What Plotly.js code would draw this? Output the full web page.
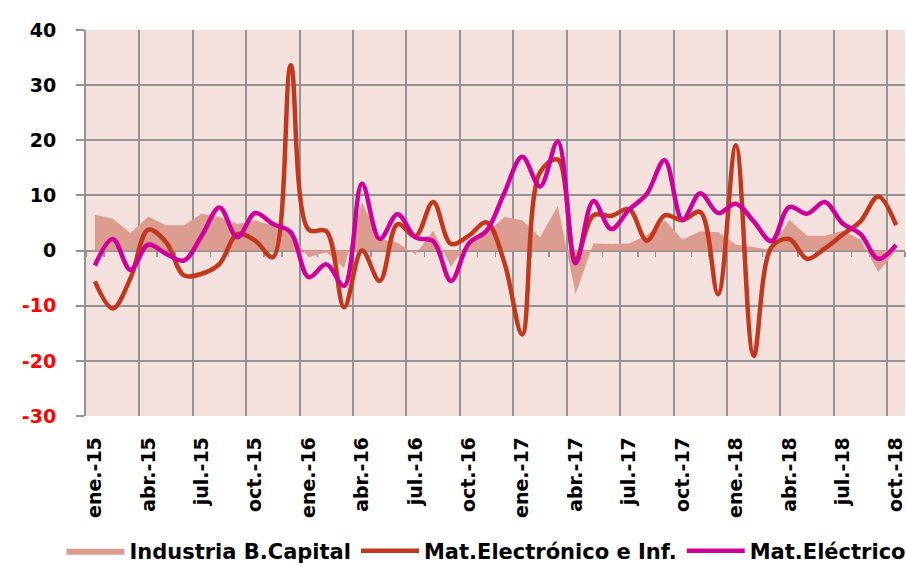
<!DOCTYPE html>
<html>
<head>
<meta charset="utf-8">
<script src="https://cdn.plot.ly/plotly-3.0.1.min.js"></script>
<style>
html,body{margin:0;padding:0;background:#fff;}
#chart{width:906px;height:566px;}
</style>
</head>
<body>
<div id="chart"></div>
<script>
// Months ene.-15 .. oct.-18 (46 months)
const months = ["ene.-15","feb.-15","mar.-15","abr.-15","may.-15","jun.-15","jul.-15","ago.-15","sep.-15","oct.-15","nov.-15","dic.-15",
  "ene.-16","feb.-16","mar.-16","abr.-16","may.-16","jun.-16","jul.-16","ago.-16","sep.-16","oct.-16","nov.-16","dic.-16",
  "ene.-17","feb.-17","mar.-17","abr.-17","may.-17","jun.-17","jul.-17","ago.-17","sep.-17","oct.-17","nov.-17","dic.-17",
  "ene.-18","feb.-18","mar.-18","abr.-18","may.-18","jun.-18","jul.-18","ago.-18","sep.-18","oct.-18"];

const industriaBCapital = [6.5,5.8,3.2,6.2,4.6,4.6,6.7,6.1,4.8,5.5,4.5,3.0,
  -1.2,-0.3,-3.2,8.8,2.1,1.4,-0.7,3.6,-3.0,1.8,3.2,6.1,
  5.5,2.4,8.1,-7.9,1.3,1.2,1.3,2.8,5.5,2.0,3.5,3.3,
  1.1,0.6,0.1,5.6,2.7,2.7,3.6,2.0,-3.9,0.0];

const matElectronico = [-5.6,-10.5,-5.0,3.8,1.5,-4.5,-4.2,-2.4,3.0,1.8,-1.2,33.6,
  3.8,3.5,-10.3,0.0,-5.5,4.8,2.6,8.8,1.2,2.7,5.1,-2.2,
  -15.2,14.2,16.5,-1.5,6.4,6.3,7.5,1.8,6.4,5.5,7.0,-7.9,
  19.1,-19.1,0.6,2.1,-1.5,0.4,2.9,5.3,9.8,4.6];

const matElectrico = [-2.7,2.1,-3.5,1.1,-0.6,-1.8,2.7,7.8,2.4,6.8,4.8,3.3,
  -4.8,-2.5,-6.4,12.1,2.1,6.6,2.4,1.7,-5.5,1.3,3.6,10.5,
  17.0,11.6,19.8,-2.3,9.0,3.9,7.4,10.3,16.4,5.6,10.4,6.8,
  8.5,5.3,1.7,7.9,6.7,8.8,4.9,3.0,-1.5,1.0];

const yTicks = [-30,-20,-10,0,10,20,30,40];

const xIdx = months.map((m,i)=>i);
const labelIdx = xIdx.filter(i=>i%3===0);
const labelText = labelIdx.map(i=>months[i]);
// category boundaries every third month (gridlines); labels are shifted half a category to the centres
const gridIdx = labelIdx.map(i=>i-0.5);
const monthBounds = xIdx.map(i=>i-0.5).concat([months.length-0.5]);
const yText = yTicks.map(v => v<0 ? '<span style="color:#ff0000">'+v+'</span>' : String(v));

const FONT = "DejaVu Sans, Verdana, sans-serif";
const GRID = "#939393";

const traces = [
  {x:xIdx, y:industriaBCapital, type:'scatter', mode:'lines', name:'Industria B.Capital',
   fill:'tozeroy', fillcolor:'#dd9c90', line:{width:0, color:'#dd9c90'}, hoverinfo:'skip'},
  {x:xIdx, y:matElectronico, type:'scatter', mode:'lines', name:'Mat.Electrónico e Inf.',
   line:{color:'#c0391f', width:4.5, shape:'spline', smoothing:1}},
  {x:xIdx, y:matElectrico, type:'scatter', mode:'lines', name:'Mat.Eléctrico',
   line:{color:'#cc0099', width:4.5, shape:'spline', smoothing:1}}
];

const xr = [-0.5, months.length-0.5];
const layout = {
  width:906, height:566,
  margin:{l:86, r:1, t:30, b:150, autoexpand:false},
  paper_bgcolor:'#ffffff', plot_bgcolor:'#f4e1de',
  font:{family:FONT, size:19, color:'#000', weight:'bold'},
  showlegend:true,
  legend:{orientation:'h', x:-0.03, xanchor:'left', y:-0.35, yanchor:'middle', itemwidth:58,
    font:{family:FONT, size:21, color:'#000', weight:'bold'}, traceorder:'normal'},
  xaxis:{range:xr, anchor:'free', position:30/70, automargin:false,
    tickmode:'array', tickvals:gridIdx, ticktext:labelText, tickangle:-90,
    ticklabelshift:9, ticklabelstandoff:178, ticklabeloverflow:'allow',
    showgrid:true, gridcolor:GRID, gridwidth:2, ticks:'',
    zeroline:false, showline:true, linecolor:GRID, linewidth:2, layer:'below traces',
    minor:{tickmode:'array', tickvals:monthBounds, ticks:'outside', ticklen:5, tickwidth:1.5, tickcolor:GRID, showgrid:false},
    tickfont:{family:FONT, size:19, weight:'bold', color:'#000'}},
  yaxis:{range:[-30,40], tickmode:'array', tickvals:yTicks, ticktext:yText, automargin:false,
    showgrid:true, gridcolor:GRID, gridwidth:2, zeroline:false,
    showline:true, linecolor:GRID, linewidth:2, ticks:'outside', ticklen:8, tickcolor:GRID, tickwidth:2,
    ticklabelstandoff:16, tickfont:{family:FONT, size:19, weight:'bold', color:'#000'}}
};

Plotly.newPlot('chart', traces, layout, {staticPlot:true, displayModeBar:false});
</script>
</body>
</html>
